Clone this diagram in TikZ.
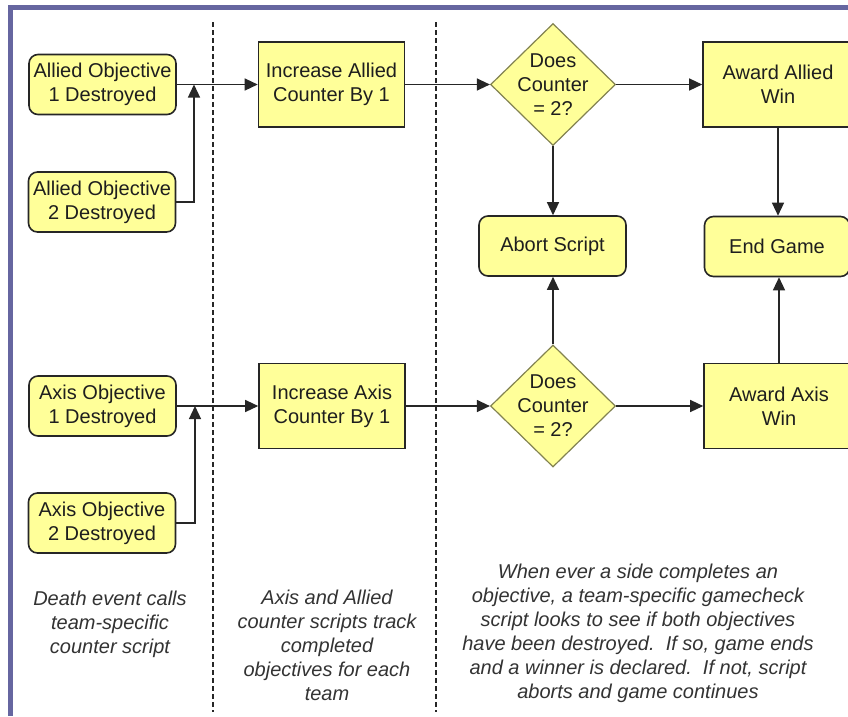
\documentclass[tikz,border=0pt]{standalone}
\usepackage{fontspec}
\setmainfont{Liberation Sans}
\usetikzlibrary{shapes.geometric,arrows.meta}
\definecolor{boxfill}{RGB}{255,255,153}
\definecolor{framec}{RGB}{102,102,160}
\definecolor{txtc}{RGB}{30,30,30}
\definecolor{diaedge}{RGB}{130,130,80}
\begin{document}
\begin{tikzpicture}[x=1pt,y=-1pt,
  boxtext/.style={font=\fontsize{20}{24}\selectfont, text=txtc, align=center},
  rbox/.style={boxtext, draw=black!85, line width=1.6pt, fill=boxfill, rounded corners=9pt,
    minimum width=147pt, minimum height=60pt, inner sep=0pt},
  sbox/.style={boxtext, draw=black!85, line width=1.6pt, fill=boxfill,
    minimum width=146pt, minimum height=85pt, inner sep=0pt},
  dia/.style={diamond, draw=diaedge, line width=1.2pt, fill=boxfill,
    minimum width=125pt, minimum height=122pt, inner sep=0pt},
  note/.style={font=\fontsize{20}{24}\selectfont\itshape, text=black!80, align=center},
  conn/.style={line width=1.3pt, draw=black!85},
  arr/.style={conn, -{Triangle[length=13pt,width=12pt]}},
  sep/.style={line width=1.2pt, draw=black!85, dash pattern=on 5pt off 3pt}
]
\useasboundingbox (0,0) rectangle (848,716);
\fill[white] (0,0) rectangle (848,716);
% frame
\fill[framec] (8,5) rectangle (848,10);
\fill[framec] (8,5) rectangle (12.5,716);
% separators
\draw[sep] (213,22) -- (213,712);
\draw[sep] (436,22) -- (436,712);

% top row
\node[rbox] (ao1) at (102.5,84.5) {Allied Objective\\1 Destroyed};
\node[rbox] (ao2) at (102,202) {Allied Objective\\2 Destroyed};
\node[sbox] (ia) at (331.5,84.5) {Increase Allied\\Counter By 1};
\node[dia] (d1) at (553,84.5) {};
\node[boxtext] at (d1.center) {Does\\Counter\\= 2?};
\node[sbox, minimum width=150pt] (aw1) at (778,84.5) {Award Allied\\Win};
\node[rbox] (ab) at (552.5,246) {Abort Script};
\node[rbox, minimum width=145pt] (eg) at (777,246.5) {End Game};

% bottom row
\node[rbox] (xo1) at (102.5,406) {Axis Objective\\1 Destroyed};
\node[rbox] (xo2) at (102,523) {Axis Objective\\2 Destroyed};
\node[sbox] (ix) at (332,406) {Increase Axis\\Counter By 1};
\node[dia] (d2) at (553,406) {};
\node[boxtext] at (d2.center) {Does\\Counter\\= 2?};
\node[sbox, minimum width=150pt] (aw2) at (779,406) {Award Axis\\Win};

\coordinate (j1) at (194,84.5);
\coordinate (j2) at (195,406);

% connectors top
\draw[arr] (ao1.east) -- (ia.west);
\draw[arr] (ao2.east) -| (j1);
\draw[arr] (ia.east) -- (d1.west);
\draw[arr] (d1.east) -- (aw1.west);
\draw[arr] (d1.south) -- (d1.south |- ab.north);
\draw[arr] (aw1.south) -- (aw1.south |- eg.north);

% connectors bottom
\draw[arr] (xo1.east) -- (ix.west);
\draw[arr] (xo2.east) -| (j2);
\draw[arr] (ix.east) -- (d2.west);
\draw[arr] (d2.east) -- (aw2.west);
\draw[arr] (d2.north) -- (d2.north |- ab.south);
\draw[arr] (aw2.north) -- (aw2.north |- eg.south);

% notes
\node[note] (n1) at (110,624) {Death event calls\\team-specific\\counter script};
\node[note] (n2) at (327,645) {Axis and Allied\\counter scripts track\\completed\\objectives for each\\team};
\node[note] (n3) at (638,633.5) {When ever a side completes an\\objective, a team-specific gamecheck\\script looks to see if both objectives\\have been destroyed.\ \ If so, game ends\\and a winner is declared.\ \ If not, script\\aborts and game continues};
\end{tikzpicture}
\end{document}
